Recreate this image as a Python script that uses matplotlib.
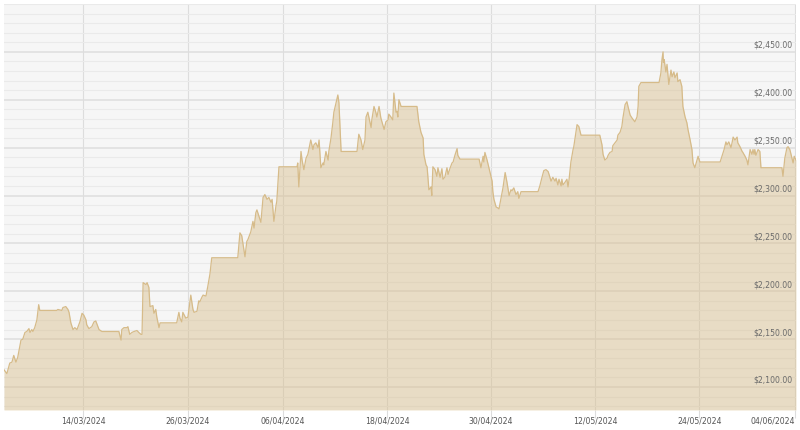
import matplotlib
matplotlib.use('Agg')
import matplotlib.pyplot as plt
import matplotlib.dates as mdates
import matplotlib.transforms as mtransforms
from matplotlib.ticker import MultipleLocator
import pandas as pd

# ===== Gold price (USD), Mar - Jun 2024 =====
# stamps are 'MM-DD HH' in 2024, one line per week
stamps = [
    '03-04 20', '03-05 04', '03-05 12', '03-05 18', '03-05 23', '03-06 05', '03-06 10', '03-06 19', '03-07 00', '03-07 06',
    '03-07 11', '03-07 17', '03-07 20', '03-08 01', '03-08 04', '03-08 09', '03-08 15', '03-08 20', '03-08 23', '03-10 22',
    '03-11 01', '03-11 12', '03-11 15', '03-11 23', '03-12 05', '03-12 08', '03-12 13', '03-12 19', '03-13 00', '03-13 06', '03-13 14',
    '03-13 20', '03-14 01', '03-14 07', '03-14 09', '03-14 15', '03-14 23', '03-15 05', '03-15 10', '03-15 16', '03-15 19', '03-16 03',
    '03-18 02', '03-18 08', '03-18 10', '03-18 16', '03-19 00', '03-19 03', '03-19 08', '03-19 14', '03-19 20', '03-20 04', '03-20 09', '03-20 15',
    '03-20 18', '03-20 21', '03-21 05', '03-21 08', '03-21 13', '03-21 16', '03-22 00', '03-22 03', '03-22 08', '03-22 11', '03-22 17', '03-22 20', '03-24 18',
    '03-25 00', '03-25 03', '03-25 08', '03-25 11', '03-25 19', '03-26 01', '03-26 09', '03-26 15', '03-26 18', '03-27 02',
    '03-27 07', '03-27 10', '03-27 16', '03-27 19', '03-28 03', '03-28 08', '03-28 14', '03-28 19', '03-31 19',
    '04-01 01', '04-01 06', '04-01 12', '04-01 15', '04-01 20', '04-01 23', '04-02 07', '04-02 13', '04-02 16', '04-02 21', '04-03 00', '04-03 06', '04-03 11',
    '04-03 17', '04-03 22', '04-04 04', '04-04 09', '04-04 15', '04-04 18', '04-04 23', '04-05 05', '04-05 07', '04-05 13', '04-07 15', '04-07 17', '04-07 20',
    '04-08 02', '04-08 05', '04-08 10', '04-08 16', '04-08 21', '04-09 05', '04-09 11', '04-09 14', '04-09 19', '04-10 01', '04-10 04', '04-10 09', '04-10 15', '04-10 17',
    '04-10 23', '04-11 05', '04-11 07', '04-11 13', '04-11 18', '04-11 21', '04-12 03', '04-12 05', '04-12 08', '04-12 11', '04-12 17', '04-14 13', '04-14 18',
    '04-15 00', '04-15 05', '04-15 11', '04-15 14', '04-15 19', '04-16 04', '04-16 06', '04-16 12', '04-16 17', '04-16 20', '04-17 02', '04-17 07', '04-17 10', '04-17 16',
    '04-17 21', '04-18 03', '04-18 05', '04-18 11', '04-18 16', '04-18 19', '04-19 01', '04-19 04', '04-19 06', '04-19 09', '04-19 15', '04-21 11', '04-21 16', '04-21 22',
    '04-22 04', '04-22 06', '04-22 12', '04-22 15', '04-22 20', '04-23 02', '04-23 04', '04-23 07', '04-23 13', '04-23 18', '04-23 21', '04-24 03', '04-24 08',
    '04-24 11', '04-24 16', '04-24 22', '04-25 01', '04-25 06', '04-25 12', '04-25 15', '04-25 20', '04-26 02', '04-26 04', '04-26 10', '04-28 15', '04-28 20',
    '04-29 02', '04-29 04', '04-29 07', '04-29 13', '04-29 18', '04-29 21', '04-30 03', '04-30 05', '04-30 08', '04-30 14', '04-30 19', '04-30 22', '05-01 03', '05-01 09',
    '05-01 15', '05-01 20', '05-02 02', '05-02 07', '05-02 10', '05-02 15', '05-02 21', '05-03 02', '05-03 05', '05-03 11', '05-05 10', '05-05 15', '05-05 21',
    '05-06 02', '05-06 08', '05-06 14', '05-06 19', '05-06 22', '05-07 03', '05-07 09', '05-07 12', '05-07 17', '05-07 20', '05-08 02', '05-08 04', '05-08 07', '05-08 13',
    '05-08 18', '05-08 21', '05-09 00', '05-09 05', '05-09 11', '05-09 13', '05-09 19', '05-09 22', '05-10 03', '05-10 09', '05-12 13', '05-12 19', '05-12 22',
    '05-13 03', '05-13 09', '05-13 12', '05-13 17', '05-13 23', '05-14 01', '05-14 07', '05-14 13', '05-14 15', '05-14 21', '05-15 02', '05-15 05', '05-15 11', '05-15 16',
    '05-15 19', '05-16 01', '05-16 06', '05-16 14', '05-16 20', '05-16 23', '05-17 01', '05-17 07', '05-19 09', '05-19 14', '05-19 17', '05-19 20', '05-19 21', '05-19 23',
    '05-20 04', '05-20 07', '05-20 10', '05-20 12', '05-20 18', '05-20 21', '05-21 02', '05-21 05', '05-21 11', '05-21 13', '05-21 19', '05-22 00', '05-22 03',
    '05-22 09', '05-22 14', '05-22 17', '05-22 23', '05-23 04', '05-23 07', '05-23 12', '05-23 18', '05-23 21', '05-24 02', '05-26 10', '05-26 15', '05-26 21',
    '05-27 02', '05-27 05', '05-27 10', '05-27 16', '05-27 19', '05-27 22', '05-28 03', '05-28 09', '05-28 11', '05-28 17', '05-28 23', '05-29 01', '05-29 07', '05-29 12',
    '05-29 15', '05-29 21', '05-30 02', '05-30 05', '05-30 08', '05-30 10', '05-30 13', '05-30 19', '05-31 00', '05-31 03', '06-02 13', '06-02 16', '06-02 21',
    '06-03 03', '06-03 06', '06-03 11', '06-03 20', '06-03 23', '06-04 04',
]
prices = [
    2118, 2114, 2125, 2126, 2133, 2126, 2131, 2149, 2150, 2157,
    2158, 2161, 2157, 2160, 2158, 2162, 2170, 2186, 2180, 2180,
    2181, 2180, 2183, 2184, 2181, 2178, 2167, 2160, 2162, 2160, 2168,
    2177, 2175, 2170, 2165, 2161, 2163, 2168, 2169, 2163, 2160, 2158,
    2158, 2149, 2160, 2162, 2162, 2163, 2155, 2157, 2158, 2159, 2157, 2155,
    2155, 2209, 2207, 2209, 2204, 2184, 2185, 2177, 2181, 2173, 2162, 2167, 2167,
    2178, 2172, 2168, 2178, 2172, 2173, 2196, 2181, 2178, 2179,
    2190, 2189, 2194, 2196, 2195, 2205, 2218, 2235, 2235,
    2261, 2258, 2243, 2236, 2252, 2254, 2262, 2273, 2266, 2282, 2285, 2278, 2272,
    2298, 2301, 2296, 2298, 2293, 2296, 2273, 2290, 2294, 2330, 2330, 2334, 2309,
    2346, 2337, 2327, 2339, 2343, 2358, 2348, 2353, 2355, 2350, 2358, 2329, 2334, 2332,
    2346, 2337, 2346, 2360, 2376, 2387, 2397, 2400, 2405, 2397, 2346, 2346, 2364,
    2358, 2348, 2358, 2382, 2387, 2371, 2379, 2393, 2387, 2382, 2393, 2381, 2377, 2369,
    2377, 2379, 2385, 2382, 2379, 2407, 2387, 2388, 2382, 2400, 2393, 2393, 2377, 2366,
    2360, 2343, 2332, 2330, 2306, 2309, 2300, 2330, 2327, 2320, 2329, 2319, 2328,
    2317, 2319, 2329, 2322, 2328, 2334, 2335, 2342, 2349, 2342, 2338, 2338, 2329,
    2341, 2335, 2345, 2337, 2329, 2324, 2315, 2304, 2296, 2288, 2287, 2286, 2296, 2308,
    2324, 2314, 2300, 2306, 2305, 2308, 2301, 2304, 2297, 2304, 2304, 2310, 2319,
    2326, 2327, 2325, 2319, 2315, 2319, 2315, 2318, 2311, 2317, 2310, 2317, 2311, 2314,
    2317, 2309, 2317, 2335, 2348, 2351, 2366, 2374, 2372, 2363, 2363, 2353, 2343,
    2337, 2339, 2342, 2345, 2346, 2352, 2355, 2358, 2363, 2366, 2372, 2381, 2395, 2398,
    2393, 2384, 2381, 2377, 2382, 2393, 2414, 2418, 2418, 2428, 2442, 2450, 2439, 2442,
    2429, 2437, 2424, 2416, 2431, 2424, 2429, 2423, 2428, 2419, 2421, 2414, 2393,
    2382, 2376, 2369, 2358, 2348, 2334, 2329, 2337, 2341, 2335, 2335, 2341, 2348,
    2356, 2353, 2356, 2350, 2355, 2361, 2358, 2361, 2355, 2351, 2346, 2345, 2341, 2337,
    2332, 2348, 2343, 2348, 2343, 2348, 2342, 2348, 2346, 2329, 2329, 2320, 2339,
    2350, 2351, 2348, 2334, 2341, 2337,
]
assert len(stamps) == len(prices)

x_ticks = ['2024-03-14', '2024-03-26', '2024-04-06', '2024-04-18',
           '2024-04-30', '2024-05-12', '2024-05-24', '2024-06-04']
y_labels = [2100, 2150, 2200, 2250, 2300, 2350, 2400, 2450]
y_min, y_max = 2076, 2500

times = pd.to_datetime(['2024-' + s for s in stamps], format='%Y-%m-%d %H')

fig = plt.figure(figsize=(8, 4.3), dpi=100)
ax = fig.add_axes([4 / 800, 20 / 430, 792 / 800, 406 / 430])
ax.set_facecolor('#f6f6f6')
for sp in ax.spines.values():
    sp.set_visible(False)

# grid: every $10 light, every $50 darker
ax.set_ylim(y_min, y_max)
ax.set_yticks(y_labels)
ax.yaxis.set_minor_locator(MultipleLocator(10))
ax.grid(which='minor', axis='y', color='#eaeaea', lw=0.8)
ax.grid(which='major', axis='y', color='#dedede', lw=1.1)
ax.grid(which='major', axis='x', color='#dddddd', lw=0.8)
ax.set_axisbelow(True)

ax.fill_between(times, prices, y_min, color='#d8bd8a', alpha=0.45, lw=0)
ax.plot(times, prices, color='#d6bb89', lw=0.9)

ax.set_xlim(times[0], times[-1])
ax.set_xticks(pd.to_datetime(x_ticks))
ax.xaxis.set_major_formatter(mdates.DateFormatter('%d/%m/%Y'))
ax.tick_params(axis='x', which='major', length=6, width=0.8, color='#dddddd',
               labelsize=5.6, labelcolor='#555555', pad=-1.5)
ax.tick_params(axis='y', which='both', length=0, labelleft=False)
ax.get_xticklabels()[-1].set_horizontalalignment('right')

# price labels sit inside the plot, right aligned, just above their line
trans = mtransforms.blended_transform_factory(ax.transAxes, ax.transData)
off = mtransforms.offset_copy(trans, fig=fig, x=0, y=1.5, units='points')
for v in y_labels:
    ax.text(0.995, v, f'${v:,.2f}', transform=off, ha='right', va='bottom',
            fontsize=5.6, color='#6a6a6a')

fig.savefig('out.png', dpi=100, facecolor='white')
